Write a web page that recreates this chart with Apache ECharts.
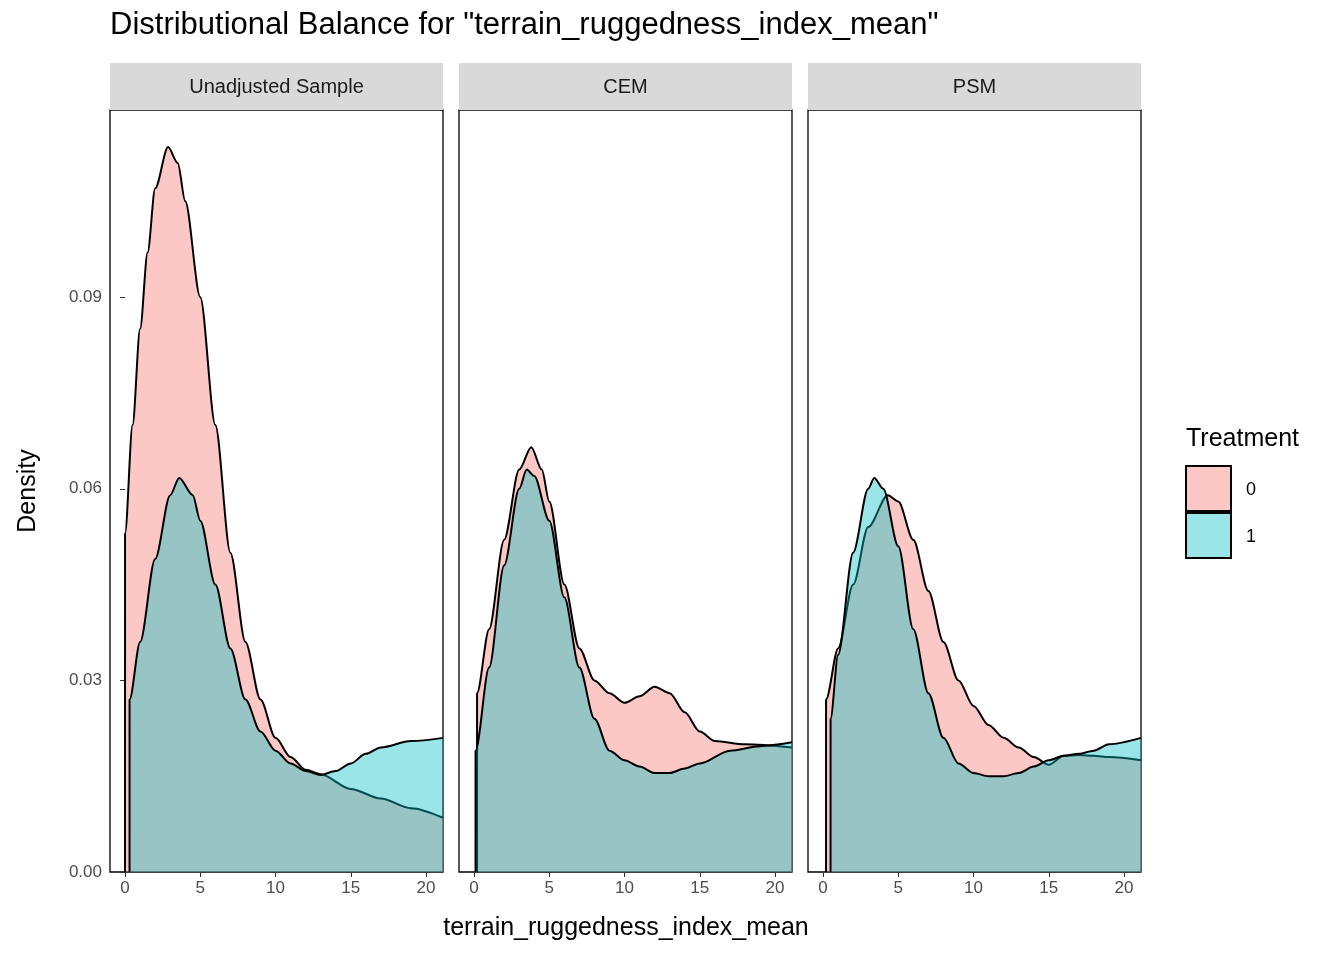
<!DOCTYPE html>
<html>
<head>
<meta charset="utf-8">
<script src="https://cdn.jsdelivr.net/npm/echarts@6/dist/echarts.min.js"></script>
<style>html,body{margin:0;background:#fff}#chart{width:1344px;height:960px}</style>
</head>
<body>
<div id="chart"></div>
<script>
const panels = ['Unadjusted Sample', 'CEM', 'PSM'];
const groups = ['0', '1'];
const xTicks = [0, 5, 10, 15, 20];
const yTicks = [0, 0.03, 0.06, 0.09];

// density curves: [x, density]
const unadj0 = [[0, 0.053], [0.5, 0.07], [1, 0.085], [1.5, 0.097], [2, 0.107], [2.86, 0.1135], [3.5, 0.111], [4, 0.105], [5, 0.09], [6, 0.07], [7, 0.05], [8, 0.036], [9, 0.027], [10, 0.021], [11, 0.018], [12, 0.016], [13, 0.0153], [15, 0.013], [17, 0.0115], [19, 0.010], [21.13, 0.0085]];
const unadj1 = [[0.3, 0.027], [1, 0.036], [2, 0.049], [3, 0.059], [3.6, 0.0617], [4.5, 0.059], [5, 0.055], [6, 0.045], [7, 0.035], [8, 0.027], [9, 0.022], [10, 0.019], [11, 0.017], [12, 0.0158], [13, 0.0152], [14, 0.0158], [15, 0.017], [16, 0.0185], [17, 0.0195], [19, 0.0205], [21.13, 0.021]];
const cem0 = [[0.2, 0.028], [1, 0.038], [2, 0.052], [3, 0.063], [3.8, 0.0665], [4.5, 0.063], [5, 0.058], [6, 0.045], [7, 0.035], [8, 0.03], [9, 0.028], [10, 0.0265], [11, 0.0275], [12, 0.029], [13, 0.028], [14, 0.025], [15, 0.022], [16, 0.0205], [18, 0.02], [21.13, 0.0195]];
const cem1 = [[0.1, 0.019], [1, 0.032], [2, 0.048], [3, 0.06], [3.5, 0.063], [4, 0.062], [5, 0.055], [6, 0.043], [7, 0.032], [8, 0.024], [9, 0.019], [10, 0.0175], [11, 0.0165], [12, 0.0155], [13, 0.0155], [14, 0.0162], [15, 0.017], [17, 0.019], [19, 0.0197], [21.13, 0.0203]];
const psm0 = [[0.2, 0.027], [1, 0.035], [2, 0.045], [3, 0.054], [4.3, 0.059], [5, 0.058], [6, 0.052], [7, 0.044], [8, 0.036], [9, 0.03], [10, 0.026], [11, 0.023], [12, 0.021], [13, 0.0195], [14, 0.018], [15, 0.0168], [16, 0.0182], [17, 0.0183], [18, 0.0182], [19, 0.018], [21.13, 0.0175]];
const psm1 = [[0.5, 0.024], [1, 0.034], [2, 0.05], [3, 0.06], [3.4, 0.0617], [4, 0.06], [5, 0.051], [6, 0.038], [7, 0.028], [8, 0.021], [9, 0.017], [10, 0.0155], [11, 0.015], [12, 0.015], [13, 0.0155], [14, 0.0165], [15, 0.0175], [16, 0.0182], [17, 0.0185], [18, 0.019], [19, 0.02], [21.13, 0.021]];
const curves = [[unadj0, unadj1], [cem0, cem1], [psm0, psm1]];

const fills = ['rgba(248,118,109,0.4)', 'rgba(0,191,196,0.4)'];
const lefts = [110, 459, 808];
const W = 333, TOP = 110, H = 762;

const chart = echarts.init(document.getElementById('chart'));
const grid = [], xAxis = [], yAxis = [], series = [], graphic = [];

panels.forEach((name, i) => {
    grid.push({left: lefts[i], top: TOP, width: W, height: H, show: true, borderColor: '#000', borderWidth: 1.3, backgroundColor: '#fff'});
    xAxis.push({
        type: 'value', gridIndex: i, min: -1, max: 21.13, interval: 5,
        axisLine: {show: false},
        axisTick: {show: true, length: 5, lineStyle: {color: '#333'}, customValues: xTicks},
        axisLabel: {color: '#4d4d4d', fontSize: 17, margin: 8, customValues: xTicks, fontFamily: 'Liberation Sans'},
        splitLine: {show: false}
    });
    yAxis.push({
        type: 'value', gridIndex: i, min: 0, max: 0.1193,
        axisLine: {show: false},
        axisTick: {show: i === 0, length: 5, lineStyle: {color: '#333'}, customValues: yTicks},
        axisLabel: {show: i === 0, color: '#4d4d4d', fontSize: 17, margin: 8, customValues: yTicks, fontFamily: 'Liberation Sans', formatter: v => v.toFixed(2)},
        splitLine: {show: false}
    });
    curves[i].forEach((pts, g) => {
        const data = [[pts[0][0] - 0.001, 0], ...pts];
        series.push({
            type: 'line', xAxisIndex: i, yAxisIndex: i, data: data,
            smooth: 0.3, smoothMonotone: 'x', symbol: 'none',
            lineStyle: {color: '#000', width: 2},
            areaStyle: {color: fills[g], opacity: 1},
            z: 2 + g
        });
    });
    graphic.push({type: 'rect', shape: {x: lefts[i], y: 63, width: W, height: 47}, style: {fill: '#d9d9d9'}});
    graphic.push({type: 'text', x: lefts[i] + W / 2, y: 87, style: {text: name, fill: '#1a1a1a', font: '20px Liberation Sans', align: 'center', verticalAlign: 'middle'}});
});

graphic.push({type: 'text', left: 110, top: 10, style: {text: 'Distributional Balance for "terrain_ruggedness_index_mean"', fill: '#000', font: '31px Liberation Sans'}});
graphic.push({type: 'text', x: 626, y: 928, style: {text: 'terrain_ruggedness_index_mean', fill: '#000', font: '25px Liberation Sans', align: 'center', verticalAlign: 'middle'}});
graphic.push({type: 'text', x: 28, y: 491, rotation: Math.PI / 2, style: {text: 'Density', fill: '#000', font: '25px Liberation Sans', align: 'center', verticalAlign: 'middle'}});
graphic.push({type: 'text', x: 1186, y: 439, style: {text: 'Treatment', fill: '#000', font: '25px Liberation Sans', verticalAlign: 'middle'}});
groups.forEach((g, k) => {
    graphic.push({type: 'rect', shape: {x: 1186, y: 466 + k * 47, width: 45, height: 45}, style: {fill: fills[k], stroke: '#000', lineWidth: 2}});
    graphic.push({type: 'text', x: 1246, y: 490 + k * 47, style: {text: g, fill: '#000', font: '18px Liberation Sans', verticalAlign: 'middle'}});
});

chart.setOption({animation: false, grid, xAxis, yAxis, series, graphic});
</script>
</body>
</html>
